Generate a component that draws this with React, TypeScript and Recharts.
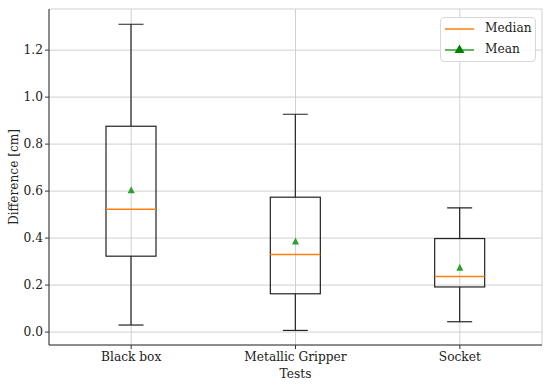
import React from "react";
import { ComposedChart, Bar, Scatter, XAxis, YAxis, CartesianGrid, Legend } from "recharts";

const categories = ["Black box", "Metallic Gripper", "Socket"];
const whiskerLow = [0.03, 0.007, 0.044];
const q1 = [0.323, 0.163, 0.192];
const median = [0.523, 0.33, 0.237];
const q3 = [0.876, 0.574, 0.398];
const whiskerHigh = [1.31, 0.927, 0.529];
const mean = [0.604, 0.385, 0.274];
const yTicks = [0, 0.2, 0.4, 0.6, 0.8, 1.0, 1.2];
const legendLabels = ["Median", "Mean"];

const FONT = "DejaVu Serif";
const FS = 12.2;
const INK = "#222";
const ORANGE = "#ff7f0e";
const GREEN = "#2ca02c";

const data = categories.map((name, i) => ({
  name,
  low: whiskerLow[i],
  q1: q1[i],
  median: median[i],
  q3: q3[i],
  high: whiskerHigh[i],
  mean: mean[i],
  range: [whiskerLow[i], whiskerHigh[i]],
}));

// draws whiskers, box and median from the pixel span of the [low, high] range bar
function BoxShape(props: any) {
  const { x, y, width, height } = props;
  const p = props.payload ?? props;
  const top = Math.min(y, y + height);
  const bottom = Math.max(y, y + height);
  const py = (v: number) => bottom - ((bottom - top) * (v - p.low)) / (p.high - p.low);
  const cx = x + width / 2;
  const capHalf = width / 4;
  return (
    <g>
      <line x1={cx} x2={cx} y1={py(p.high)} y2={py(p.q3)} stroke={INK} strokeWidth={1.2} />
      <line x1={cx} x2={cx} y1={py(p.q1)} y2={py(p.low)} stroke={INK} strokeWidth={1.2} />
      <line x1={cx - capHalf} x2={cx + capHalf} y1={py(p.high)} y2={py(p.high)} stroke={INK} strokeWidth={1.2} />
      <line x1={cx - capHalf} x2={cx + capHalf} y1={py(p.low)} y2={py(p.low)} stroke={INK} strokeWidth={1.2} />
      <rect x={x} y={py(p.q3)} width={width} height={py(p.q1) - py(p.q3)} fill="none" stroke={INK} strokeWidth={1.2} />
      <line x1={x} x2={x + width} y1={py(p.median)} y2={py(p.median)} stroke={ORANGE} strokeWidth={1.5} />
    </g>
  );
}

function Tri(props: any) {
  const { cx, cy } = props;
  return <polygon points={`${cx},${cy - 4} ${cx - 3.5},${cy + 3} ${cx + 3.5},${cy + 3}`} fill={GREEN} />;
}

function LegendBox() {
  return (
    <div
      style={{
        position: "relative",
        width: 96,
        height: 45,
        boxSizing: "border-box",
        border: "1px solid #d8d8d8",
        borderRadius: 4,
        background: "rgba(255,255,255,0.85)",
        fontFamily: FONT,
        fontSize: FS,
        color: INK,
      }}
    >
      <svg width={40} height={45} style={{ position: "absolute", left: 0, top: 0 }}>
        <line x1={4} x2={33} y1={11} y2={11} stroke={ORANGE} strokeWidth={1.5} />
        <line x1={4} x2={33} y1={32} y2={32} stroke={GREEN} strokeWidth={1.5} />
        <polygon points="18.5,26.5 13.5,35 23.5,35" fill="#008000" />
      </svg>
      <span style={{ position: "absolute", left: 44, top: 3 }}>{legendLabels[0]}</span>
      <span style={{ position: "absolute", left: 44, top: 24 }}>{legendLabels[1]}</span>
    </div>
  );
}

export default function App() {
  return (
    <div style={{ position: "absolute", left: 0, top: 0, width: 550, height: 385, background: "#fff" }}>
      <ComposedChart width={550} height={385} data={data} margin={{ top: 9, right: 8, left: 0, bottom: 0 }}>
        <CartesianGrid stroke="#d0d0d0" strokeWidth={1} />
        <XAxis
          dataKey="name"
          height={40}
          stroke="#333"
          tickSize={4}
          tickMargin={3}
          tick={{ fontFamily: FONT, fontSize: FS, fill: INK }}
          label={{ value: "Tests", position: "insideBottom", offset: 7, style: { fontFamily: FONT, fontSize: FS, fill: INK } }}
        />
        <XAxis xAxisId="top" orientation="top" dataKey="name" height={0} tick={false} tickLine={false} stroke="#333" />
        <YAxis
          width={49}
          domain={[-0.055, 1.375]}
          ticks={yTicks}
          allowDataOverflow
          stroke="#333"
          tickSize={4}
          tickFormatter={(v: number) => v.toFixed(1)}
          tick={{ fontFamily: FONT, fontSize: FS, fill: INK }}
          label={{
            value: "Difference [cm]",
            angle: -90,
            position: "insideLeft",
            offset: 14,
            style: { fontFamily: FONT, fontSize: FS, fill: INK, textAnchor: "middle" },
          }}
        />
        <YAxis yAxisId="right" orientation="right" width={0} domain={[-0.055, 1.375]} tick={false} tickLine={false} stroke="#333" />
        <Bar dataKey="range" barSize={50} shape={BoxShape} isAnimationActive={false} />
        <Scatter dataKey="mean" shape={Tri} isAnimationActive={false} />
        <Legend
          layout="vertical"
          align="center"
          verticalAlign="middle"
          content={() => <LegendBox />}
          wrapperStyle={{ left: 440, top: 17, width: 96, height: 45 }}
        />
      </ComposedChart>
    </div>
  );
}
